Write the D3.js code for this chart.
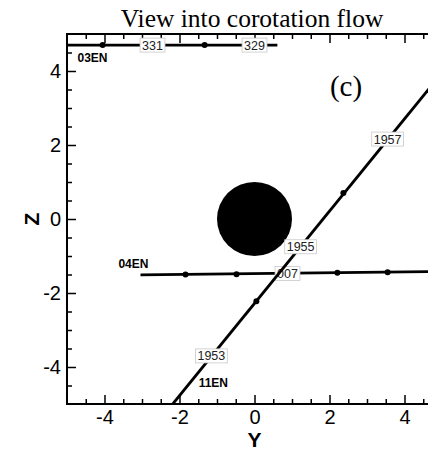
<!DOCTYPE html>
<html>
<head>
<meta charset="utf-8">
<script src="https://cdn.jsdelivr.net/npm/d3@7"></script>
<style>
  body { margin: 0; background: #fff; }
  .tick text { font-family: "Liberation Sans", Arial, sans-serif; font-size: 20px; fill: #000; }
  .tick line { stroke: #000; stroke-width: 1.5; }
  .domain { display: none; }
  .lbl text { font-family: "Liberation Sans", Arial, sans-serif; font-size: 12.5px; fill: #222; }
  .name { font-family: "Liberation Sans", Arial, sans-serif; font-size: 12px; font-weight: bold; }
</style>
</head>
<body>
<svg id="chart" width="428" height="450"></svg>
<script>
// axis ticks
const majorTicks = [-4, -2, 0, 2, 4];
const minorTicks = [-4.5, -3.5, -3, -2.5, -1.5, -1, -0.5, 0.5, 1, 1.5, 2.5, 3, 3.5, 4.5];

// trajectory 03EN (Y, Z in planet radii)
const en03Y = [-5.0, 0.61];
const en03Z = [4.70, 4.70];
const en03DotY = [-4.05, -1.33];
const en03DotZ = [4.70, 4.70];
const en03Labels = ['331', '329'];
const en03LabelY = [-2.72, 0.0];
const en03LabelZ = [4.70, 4.70];

// trajectory 04EN
const en04Y = [-3.04, 5.0];
const en04Z = [-1.51, -1.42];
const en04DotY = [-1.84, -0.48, 2.21, 3.55];
const en04DotZ = [-1.50, -1.49, -1.45, -1.44];
const en04Labels = ['007'];
const en04LabelY = [0.88];
const en04LabelZ = [-1.47];

// trajectory 11EN
const en11Y = [-2.18, 5.0];
const en11Z = [-5.0, 3.95];
const en11DotY = [0.05, 2.37];
const en11DotZ = [-2.22, 0.70];
const en11Labels = ['1953', '1955', '1957'];
const en11LabelY = [-1.15, 1.23, 3.55];
const en11LabelZ = [-3.70, -0.75, 2.16];

const names = ['03EN', '04EN', '11EN'];
const nameY = [-4.72, -3.63, -1.49];
const nameZ = [4.24, -1.32, -4.54];

const svg = d3.select('#chart');
const x = d3.scaleLinear().domain([-5, 5]).range([67, 442]);
const y = d3.scaleLinear().domain([-5, 5]).range([404, 34]);

svg.append('defs').append('clipPath').attr('id', 'plot')
  .append('rect')
  .attr('x', x(-5)).attr('y', y(5))
  .attr('width', x(5) - x(-5)).attr('height', y(-5) - y(5));

// title
svg.append('text')
  .attr('x', 252).attr('y', 27)
  .attr('text-anchor', 'middle')
  .style('font-family', '"Liberation Serif", "Times New Roman", serif')
  .style('font-size', '25.5px')
  .text('View into corotation flow');

// axes
const fmt = d => String(d);
const xMinor = d3.axisBottom(x).tickValues(minorTicks).tickSize(-5).tickFormat('');
const xMajor = d3.axisBottom(x).tickValues(majorTicks).tickSize(-9).tickPadding(6).tickFormat(fmt);
const yMinor = d3.axisLeft(y).tickValues(minorTicks).tickSize(-5).tickFormat('');
const yMajor = d3.axisLeft(y).tickValues(majorTicks).tickSize(-9).tickPadding(6).tickFormat(fmt);

svg.append('g').attr('transform', `translate(0,${y(-5)})`).call(xMinor);
svg.append('g').attr('transform', `translate(0,${y(-5)})`).call(xMajor);
svg.append('g').attr('transform', `translate(0,${y(5)})`)
  .call(d3.axisTop(x).tickValues(minorTicks).tickSize(-5).tickFormat(''));
svg.append('g').attr('transform', `translate(0,${y(5)})`)
  .call(d3.axisTop(x).tickValues(majorTicks).tickSize(-9).tickFormat(''));
svg.append('g').attr('transform', `translate(${x(-5)},0)`).call(yMinor);
svg.append('g').attr('transform', `translate(${x(-5)},0)`).call(yMajor);

svg.append('rect')
  .attr('x', x(-5)).attr('y', y(5))
  .attr('width', x(5) - x(-5)).attr('height', y(-5) - y(5))
  .attr('fill', 'none').attr('stroke', '#000').attr('stroke-width', 2);

// axis titles
svg.append('text')
  .attr('x', x(0)).attr('y', 447)
  .attr('text-anchor', 'middle')
  .style('font-family', '"Liberation Sans", Arial, sans-serif')
  .style('font-size', '21px').style('font-weight', 'bold')
  .text('Y');
svg.append('text')
  .attr('transform', `translate(39,${y(0)}) rotate(-90)`)
  .attr('text-anchor', 'middle')
  .style('font-family', '"Liberation Sans", Arial, sans-serif')
  .style('font-size', '21px').style('font-weight', 'bold')
  .text('Z');

// panel tag
svg.append('text')
  .attr('x', 346).attr('y', 96)
  .attr('text-anchor', 'middle')
  .style('font-family', '"Liberation Serif", "Times New Roman", serif')
  .style('font-size', '29px')
  .text('(c)');

const plot = svg.append('g').attr('clip-path', 'url(#plot)');

// planet
plot.append('ellipse')
  .attr('cx', x(0)).attr('cy', y(0))
  .attr('rx', x(1) - x(0)).attr('ry', y(0) - y(1))
  .attr('fill', '#000');

const line = d3.line().x(d => x(d[0])).y(d => y(d[1]));

function drawTraj(ys, zs, dys, dzs, labs, lys, lzs) {
  plot.append('path')
    .datum(d3.zip(ys, zs))
    .attr('d', line)
    .attr('fill', 'none').attr('stroke', '#000').attr('stroke-width', 2.8);
  plot.selectAll(null)
    .data(d3.zip(dys, dzs))
    .enter().append('circle')
    .attr('cx', d => x(d[0])).attr('cy', d => y(d[1]))
    .attr('r', 3).attr('fill', '#000');
  const g = plot.selectAll(null)
    .data(d3.zip(labs, lys, lzs))
    .enter().append('g')
    .attr('class', 'lbl')
    .attr('transform', d => `translate(${x(d[1])},${y(d[2])})`);
  const rects = g.append('rect');
  const texts = g.append('text')
    .attr('text-anchor', 'middle').attr('dy', '0.36em')
    .text(d => d[0]);
  texts.each(function(d, i) {
    const b = this.getBBox();
    d3.select(rects.nodes()[i])
      .attr('x', b.x - 2).attr('y', -7)
      .attr('width', b.width + 4).attr('height', 14)
      .attr('fill', '#fff').attr('stroke', '#c8c8c8').attr('stroke-width', 0.8);
  });
}

drawTraj(en04Y, en04Z, en04DotY, en04DotZ, en04Labels, en04LabelY, en04LabelZ);
drawTraj(en11Y, en11Z, en11DotY, en11DotZ, en11Labels, en11LabelY, en11LabelZ);
drawTraj(en03Y, en03Z, en03DotY, en03DotZ, en03Labels, en03LabelY, en03LabelZ);

svg.selectAll('.name')
  .data(d3.zip(names, nameY, nameZ))
  .enter().append('text')
  .attr('class', 'name')
  .attr('x', d => x(d[1])).attr('y', d => y(d[2]))
  .text(d => d[0]);
</script>
</body>
</html>
